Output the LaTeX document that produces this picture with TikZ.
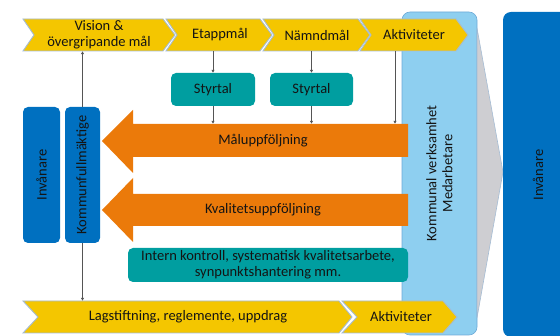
\documentclass[tikz,border=0pt]{standalone}
\usepackage{fontspec}
\setmainfont{Carlito}
\usetikzlibrary{arrows.meta}
\definecolor{cyellow}{RGB}{244,198,0}
\definecolor{corange}{RGB}{235,122,10}
\definecolor{cteal}{RGB}{0,158,160}
\definecolor{cdblue}{RGB}{0,112,192}
\definecolor{clblue}{RGB}{142,207,240}
\definecolor{cgray}{RGB}{206,206,210}
\definecolor{coutline}{RGB}{165,188,212}
\definecolor{cline}{RGB}{85,85,85}
\definecolor{ctext}{RGB}{20,20,20}
\newcommand\mychev[6]{%
  \draw[chevst] (#1,#3) -- ({#2-#6},#3) -- (#2,{(#3+#4)/2}) -- ({#2-#6},#4) -- (#1,#4) -- ({#1+#5},{(#3+#4)/2}) -- cycle;}
\begin{document}
\begin{tikzpicture}[x=1pt,y=-1pt,
  chevst/.style={fill=cyellow,draw=coutline,line width=0.9pt},
  txt/.style={font=\fontsize{14.5}{16}\selectfont,text=ctext,align=center,inner sep=0pt},
  box/.style={rounded corners=5pt,inner sep=0pt},
  conn/.style={draw=cline,line width=0.9pt,-{Latex[length=3pt,width=3.5pt]}}]
\useasboundingbox (0,0) rectangle (560,336);
% light blue box
\node[box,fill=clblue,draw={rgb,255:red,110;green,170;blue,215},line width=0.6pt,rounded corners=8pt,minimum width=75pt,minimum height=323pt] (lb) at (439.5,173.5) {};
\node[txt,rotate=90] (lbtext) at (lb.center) {Kommunal verksamhet\\Medarbetare};
% gray triangle
\draw[fill=cgray,draw=coutline,line width=0.6pt] (477,28) -- (503,172) -- (477,318) -- cycle;
% right box
\node[box,fill=cdblue,rounded corners=8pt,minimum width=100pt,minimum height=325pt] (rb) at (553,174.5) {};
\node[txt,rotate=90] (rbtext) at (538,175) {Invånare};
% top chevrons
\mychev{23}{175}{19}{51}{11}{12}
\mychev{166}{272}{19}{51}{11}{12}
\mychev{263}{370}{19}{51}{11}{12}
\mychev{360}{468}{19}{51}{11}{12}
\node[txt,minimum width=130pt,minimum height=32pt] (vision) at (99,35) {Vision \&\\övergripande mål};
\node[txt,minimum width=80pt,minimum height=32pt] (etapp) at (220,35) {Etappmål};
\node[txt,minimum width=80pt,minimum height=32pt] (namnd) at (317,35) {Nämndmål};
\node[txt,minimum width=80pt,minimum height=32pt] (akt1) at (414,35) {Aktiviteter};
% Styrtal
\node[box,fill=cteal,minimum width=84pt,minimum height=33pt,txt] (styr1) at (213,89.5) {Styrtal};
\node[box,fill=cteal,minimum width=83pt,minimum height=33pt,txt] (styr2) at (311.5,89.5) {Styrtal};
% left boxes
\node[box,fill=cdblue,minimum width=37pt,minimum height=136pt] (inv) at (41.5,175) {};
\node[txt,rotate=90] (invtext) at (inv.center) {Invånare};
\node[box,fill=cdblue,minimum width=35pt,minimum height=136pt] (kf) at (82.5,175) {};
\node[txt,rotate=90] (kftext) at (kf.center) {Kommunfullmäktige};
% orange arrows
\fill[corange] (102,141) -- (133,110) -- (133,124) -- (408,124) -- (408,157) -- (133,157) -- (133,173) -- cycle;
\fill[corange] (102,210) -- (133,178) -- (133,194) -- (408,194) -- (408,226) -- (133,226) -- (133,242) -- cycle;
\node[txt,minimum width=290pt,minimum height=33pt] (mal) at (263,140.5) {Måluppföljning};
\node[txt,minimum width=290pt,minimum height=32pt] (kval) at (263,210) {Kvalitetsuppföljning};
% intern kontroll
\node[box,fill=cteal,minimum width=280pt,minimum height=34pt,txt] (intern) at (268,265) {Intern kontroll, systematisk kvalitetsarbete,\\synpunktshantering mm.};
% bottom chevrons
\mychev{23}{352}{301}{333}{15}{13}
\mychev{342}{457}{301}{333}{15}{14}
\node[txt,minimum width=280pt,minimum height=32pt] (lag) at (188,317) {Lagstiftning, reglemente, uppdrag};
\node[txt,minimum width=80pt,minimum height=32pt] (akt2) at (401,317) {Aktiviteter};
% connectors
\coordinate (aktbot) at (395,51);
\draw[conn] (etapp.south -| styr1.north) -- (styr1.north);
\draw[conn] (namnd.south -| styr2.north) -- (styr2.north);
\draw[conn] (styr1.south) -- (styr1.south |- mal.north);
\draw[conn] (styr2.south) -- (styr2.south |- mal.north);
\draw[conn] (aktbot) -- (aktbot |- mal.north);
\draw[conn] (kf.north) -- (kf.north |- vision.south);
\draw[conn] (kf.south) -- (kf.south |- lag.north);
\end{tikzpicture}
\end{document}
